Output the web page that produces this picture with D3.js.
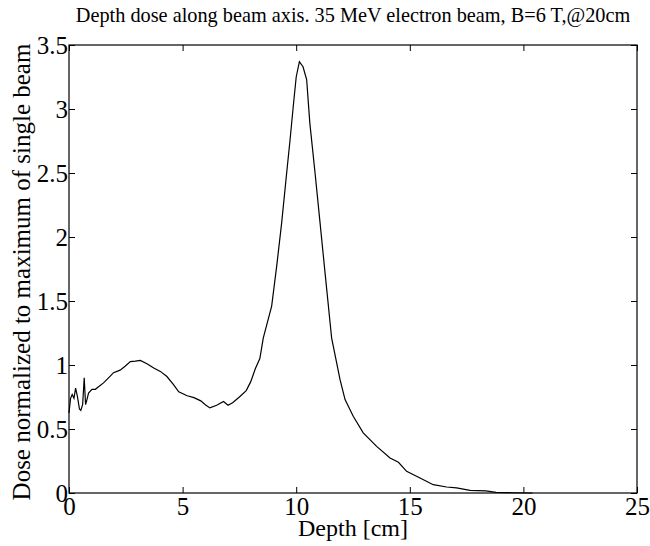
<!DOCTYPE html>
<html>
<head>
<meta charset="utf-8">
<script src="https://cdn.jsdelivr.net/npm/d3@7"></script>
<style>
body{margin:0;background:#fff;}
svg text{font-family:"Liberation Serif","Times New Roman","DejaVu Serif",serif !important;fill:#000;}
</style>
</head>
<body>
<div id="root"></div>
<script>
// depth dose curve
var depth=[0,0.07,0.14,0.22,0.29,0.37,0.46,0.52,0.6,0.67,0.73,0.79,0.86,1.01,1.16,1.3,1.52,1.74,1.96,2.25,2.47,2.7,2.92,3.14,3.43,3.73,4.02,4.31,4.6,4.83,5.2,5.5,5.8,6.0,6.2,6.5,6.8,7.0,7.2,7.5,7.8,8.0,8.2,8.4,8.55,8.92,9.14,9.36,9.58,9.73,9.87,10.0,10.14,10.3,10.46,10.6,10.83,11.05,11.27,11.56,11.93,12.15,12.51,12.95,13.54,14.13,14.5,14.86,15.45,16.03,16.62,17.06,17.65,18.35,18.8,19.5,20.4];
var dose=[0.625,0.74,0.77,0.74,0.82,0.755,0.656,0.645,0.69,0.9,0.69,0.73,0.78,0.81,0.81,0.83,0.86,0.9,0.94,0.96,0.99,1.026,1.03,1.036,1.01,0.976,0.95,0.91,0.846,0.79,0.76,0.745,0.72,0.69,0.665,0.685,0.715,0.685,0.705,0.75,0.8,0.87,0.97,1.05,1.21,1.46,1.77,2.11,2.5,2.76,3.02,3.25,3.37,3.33,3.23,2.89,2.5,2.11,1.72,1.21,0.885,0.73,0.6,0.47,0.364,0.273,0.24,0.169,0.117,0.065,0.047,0.04,0.02,0.017,0.005,0.002,0];
var xTicks=[0,5,10,15,20,25];
var yTicks=[0,0.5,1,1.5,2,2.5,3,3.5];

var m={t:45,r:13,b:53,l:69};
var W=650,H=546;
var w=W-m.l-m.r, h=H-m.t-m.b;
var serif='"Liberation Serif","Times New Roman",serif';

var svg=d3.select('#root').append('svg').attr('width',W).attr('height',H);
var g=svg.append('g').attr('transform','translate('+m.l+','+m.t+')');

var x=d3.scaleLinear().domain([0,25]).range([0,w]);
var y=d3.scaleLinear().domain([0,3.5]).range([h,0]);

// ticks point inward on all four sides
var tl=6;
g.append('g').attr('transform','translate(0,'+h+')')
  .call(d3.axisBottom(x).tickValues(xTicks).tickSizeInner(-tl).tickSizeOuter(0).tickPadding(0).tickFormat(d3.format('d')))
  .call(function(a){a.select('.domain').remove();a.selectAll('text').attr('dy',null).attr('y',22);});
g.append('g')
  .call(d3.axisTop(x).tickValues(xTicks).tickSizeInner(-tl).tickSizeOuter(0).tickFormat(''))
  .call(function(a){a.select('.domain').remove();});
g.append('g')
  .call(d3.axisLeft(y).tickValues(yTicks).tickSizeInner(-tl).tickSizeOuter(0).tickFormat(function(d){return String(d)}))
  .call(function(a){a.select('.domain').remove();a.selectAll('text').attr('x',-1);});
g.append('g').attr('transform','translate('+w+',0)')
  .call(d3.axisRight(y).tickValues(yTicks).tickSizeInner(-tl).tickSizeOuter(0).tickFormat(''))
  .call(function(a){a.select('.domain').remove();});
g.selectAll('.tick line').attr('stroke','#000');
g.selectAll('.tick text').style('font-family',serif).style('font-size','25px');

g.append('rect').attr('width',w).attr('height',h).attr('fill','none').attr('stroke','#000').attr('stroke-width',1.2);

var pts=depth.map(function(d,i){return [d,dose[i]]});
var line=d3.line().x(function(d){return x(d[0])}).y(function(d){return y(d[1])});
g.append('path').datum(pts).attr('d',line).attr('fill','none').attr('stroke','#000').attr('stroke-width',1.2);

svg.append('text').attr('x',353).attr('y',22).attr('text-anchor','middle')
  .style('font-family',serif).style('font-size','20.3px')
  .text('Depth dose along beam axis. 35 MeV electron beam, B=6 T,@20cm');
svg.append('text').attr('x',m.l+w/2).attr('y',536).attr('text-anchor','middle')
  .style('font-family',serif).style('font-size','24px')
  .text('Depth [cm]');
svg.append('text').attr('transform','translate(30,272) rotate(-90)').attr('text-anchor','middle')
  .style('font-family',serif).style('font-size','25px')
  .text('Dose normalized to maximum of single beam');
</script>
</body>
</html>
